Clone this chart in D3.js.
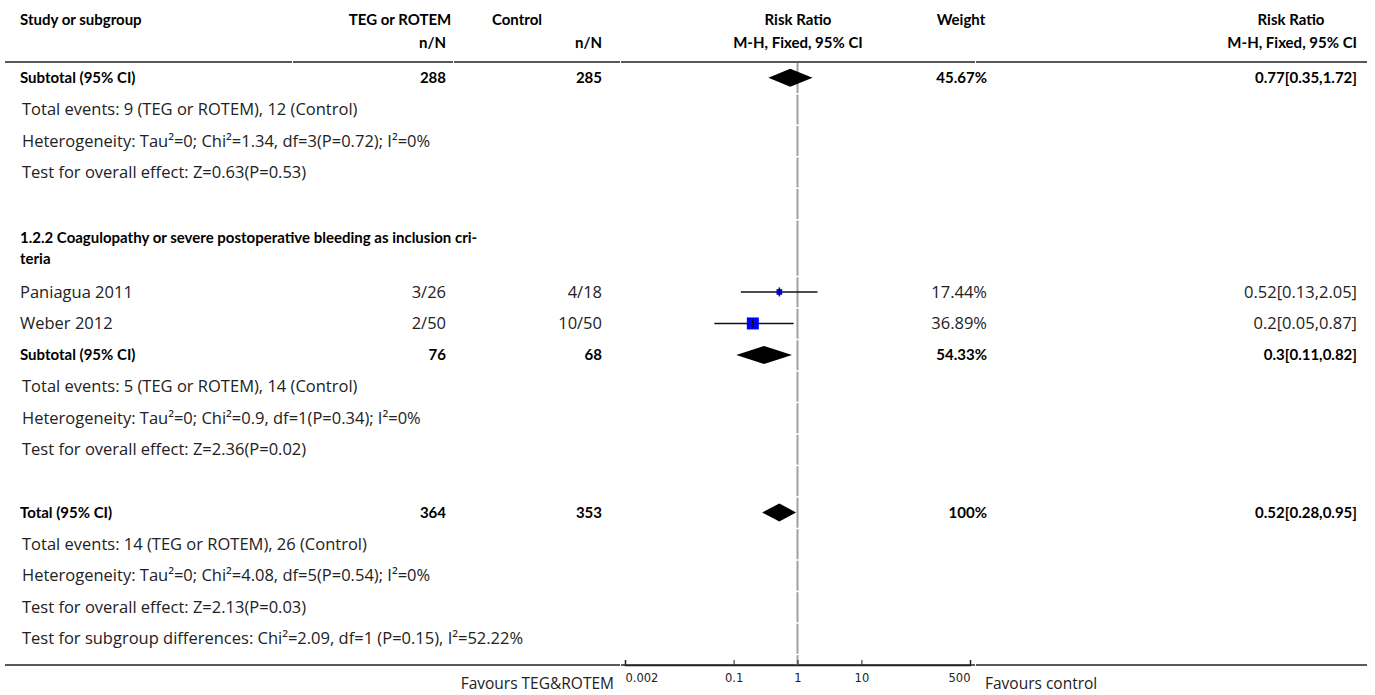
<!DOCTYPE html>
<meta charset="utf-8">
<style>
body { margin: 0; background: #fff; }
text { font-family: "Open Sans", Lato, sans-serif; font-size: 16.5px; fill: #222; }
.bold { font-family: Lato, sans-serif; font-size: 15px; font-weight: bold; fill: #000; }
.fav { font-size: 15.5px; }
.tick text { font-family: "DejaVu Sans", sans-serif; font-size: 11.5px; fill: #222; }
</style>
<body>
<div id="chart"></div>
<script src="https://cdn.jsdelivr.net/npm/d3@7"></script>
<script>

// ---- data ----
var studyNames  = ["Paniagua 2011", "Weber 2012"];
var tegCounts   = ["3/26", "2/50"];
var ctrlCounts  = ["4/18", "10/50"];
var studyRR     = [0.52, 0.2];
var studyLo     = [0.13, 0.05];
var studyHi     = [2.05, 0.87];
var studyWeight = [17.44, 36.89];
var studyCI     = ["0.52[0.13,2.05]", "0.2[0.05,0.87]"];

var pooledNames  = ["Subtotal (95% CI)", "Subtotal (95% CI)", "Total (95% CI)"];
var pooledTeg    = [288, 76, 364];
var pooledCtrl   = [285, 68, 353];
var pooledRR     = [0.77, 0.3, 0.52];
var pooledLo     = [0.35, 0.11, 0.28];
var pooledHi     = [1.72, 0.82, 0.95];
var pooledWeight = ["45.67%", "54.33%", "100%"];
var pooledCI     = ["0.77[0.35,1.72]", "0.3[0.11,0.82]", "0.52[0.28,0.95]"];

var notes1 = ["Total events: 9 (TEG or ROTEM), 12 (Control)",
              "Heterogeneity: Tau\u00b2=0; Chi\u00b2=1.34, df=3(P=0.72); I\u00b2=0%",
              "Test for overall effect: Z=0.63(P=0.53)"];
var notes2 = ["Total events: 5 (TEG or ROTEM), 14 (Control)",
              "Heterogeneity: Tau\u00b2=0; Chi\u00b2=0.9, df=1(P=0.34); I\u00b2=0%",
              "Test for overall effect: Z=2.36(P=0.02)"];
var notes3 = ["Total events: 14 (TEG or ROTEM), 26 (Control)",
              "Heterogeneity: Tau\u00b2=0; Chi\u00b2=4.08, df=5(P=0.54); I\u00b2=0%",
              "Test for overall effect: Z=2.13(P=0.03)",
              "Test for subgroup differences: Chi\u00b2=2.09, df=1 (P=0.15), I\u00b2=52.22%"];
var headingLines = ["1.2.2 Coagulopathy or severe postoperative bleeding as inclusion cri-", "teria"];

var axisTicks = [0.002, 0.1, 1, 10, 500];

// ---- layout ----
var width = 1375, height = 695;
var col = {study: 20, teg: 446, ctrl: 602, weight: 987, ci: 1357, forestL: 625, forestR: 970};
var headY = 62, axisY = 665, rowH = 31.5;

// build the row list (units of one table row; the heading takes ~1.8)
var rows = [];
var u = 0;
function addRow(type, h, d) { rows.push({type: type, y0: u, y1: u + h, d: d}); u += h; }

addRow("pooled", 1, 0);
notes1.forEach(function(t) { addRow("note", 1, t); });
addRow("blank", 1);
addRow("heading", 1.8);
studyNames.forEach(function(s, i) { addRow("study", 1, i); });
addRow("pooled", 1, 1);
notes2.forEach(function(t) { addRow("note", 1, t); });
addRow("blank", 1);
addRow("pooled", 1, 2);
notes3.forEach(function(t) { addRow("note", 1, t); });

var y = d3.scaleLinear().domain([0, u]).range([headY, headY + u * rowH]);
var x = d3.scaleLog().domain([0.002, 500]).range([col.forestL, col.forestR]);
var box = d3.scaleLinear().domain([0, 100]).range([0, 32.5]);

var svg = d3.select("#chart").append("svg")
    .attr("width", width).attr("height", height);

// ---- header ----
function txt(xp, yp, s, anchor, cls) {
  return svg.append("text").attr("x", xp).attr("y", yp).attr("dy", "0.35em")
    .attr("text-anchor", anchor || "start").attr("class", cls || null).text(s);
}
txt(col.study, 20, "Study or subgroup", "start", "bold");
txt(400, 20, "TEG or ROTEM", "middle", "bold");
txt(517, 20, "Control", "middle", "bold");
txt(col.teg, 43, "n/N", "end", "bold");
txt(col.ctrl, 43, "n/N", "end", "bold");
txt(798, 20, "Risk Ratio", "middle", "bold");
txt(798, 43, "M-H, Fixed, 95% CI", "middle", "bold");
txt(961, 20, "Weight", "middle", "bold");
txt(1291, 20, "Risk Ratio", "middle", "bold");
txt(col.ci, 43, "M-H, Fixed, 95% CI", "end", "bold");

// rule lines (split at column edges)
var splits = [5, 292, 453, 620, 975, 1367];
[headY, axisY].forEach(function(ly, k) {
  var segs = k == 0 ? splits : [5, 620, 975, 1367];
  for (var i = 0; i < segs.length - 1; i++) {
    svg.append("line")
      .attr("x1", segs[i] + (i ? 1 : 0)).attr("x2", segs[i + 1])
      .attr("y1", ly).attr("y2", ly)
      .attr("stroke", "#222").attr("stroke-width", 1.5);
  }
});

// reference line at RR = 1, broken at each row
svg.selectAll(".ref").data(rows).enter().append("line")
  .attr("x1", x(1)).attr("x2", x(1))
  .attr("y1", function(r) { return y(r.y0) + 1; })
  .attr("y2", function(r) { return y(r.y1) - 0.5; })
  .attr("stroke", "#a0a0a0").attr("stroke-width", 2);
svg.append("line")
  .attr("x1", x(1)).attr("x2", x(1))
  .attr("y1", y(u) + 1).attr("y2", axisY)
  .attr("stroke", "#a0a0a0").attr("stroke-width", 2);

// ---- rows ----
rows.forEach(function(r) {
  var cy = (y(r.y0) + y(r.y1)) / 2;
  if (r.type == "note") {
    txt(col.study + 2, cy, r.d);
  } else if (r.type == "heading") {
    txt(col.study, y(r.y0) + 18, headingLines[0], "start", "bold");
    txt(col.study, y(r.y0) + 39, headingLines[1], "start", "bold");
  } else if (r.type == "study") {
    var i = r.d;
    txt(col.study, cy, studyNames[i]);
    txt(col.teg, cy, tegCounts[i], "end");
    txt(col.ctrl, cy, ctrlCounts[i], "end");
    txt(col.weight, cy, studyWeight[i].toFixed(2) + "%", "end");
    txt(col.ci, cy, studyCI[i], "end");
    svg.append("line")
      .attr("x1", x(studyLo[i])).attr("x2", x(studyHi[i]))
      .attr("y1", cy).attr("y2", cy)
      .attr("stroke", "#111").attr("stroke-width", 1.5);
    var s = box(studyWeight[i]);
    svg.append("rect")
      .attr("x", x(studyRR[i]) - s / 2).attr("y", cy - s / 2)
      .attr("width", s).attr("height", s)
      .attr("fill", "#0000ff");
    svg.append("line")
      .attr("x1", x(studyRR[i])).attr("x2", x(studyRR[i]))
      .attr("y1", cy - 4.5).attr("y2", cy + 4.5)
      .attr("stroke", "#111").attr("stroke-width", 1.5);
  } else if (r.type == "pooled") {
    var j = r.d;
    txt(col.study, cy, pooledNames[j], "start", "bold");
    txt(col.teg, cy, pooledTeg[j], "end", "bold");
    txt(col.ctrl, cy, pooledCtrl[j], "end", "bold");
    txt(col.weight, cy, pooledWeight[j], "end", "bold");
    txt(col.ci, cy, pooledCI[j], "end", "bold");
    var pts = [[x(pooledLo[j]), cy], [x(pooledRR[j]), cy - 9],
               [x(pooledHi[j]), cy], [x(pooledRR[j]), cy + 9]];
    svg.append("path").attr("d", d3.line()(pts) + "Z").attr("fill", "#000");
  }
});

// ---- axis ----
var axis = d3.axisBottom(x).tickValues(axisTicks).tickFormat(d3.format("~g"))
  .tickSize(-5).tickPadding(9);
var g = svg.append("g").attr("transform", "translate(0," + axisY + ")").call(axis);
g.select(".domain").attr("stroke", "#222").attr("stroke-width", 1.5);
g.selectAll(".tick line").attr("stroke", "#222");
// end labels hug the axis ends
g.selectAll(".tick text").attr("text-anchor", function(d, i) {
  return i == 0 ? "start" : (i == axisTicks.length - 1 ? "end" : "middle");
});

txt(614, 684, "Favours TEG&ROTEM", "end", "fav");
txt(985, 684, "Favours control", "start", "fav");

</script>
</body>
